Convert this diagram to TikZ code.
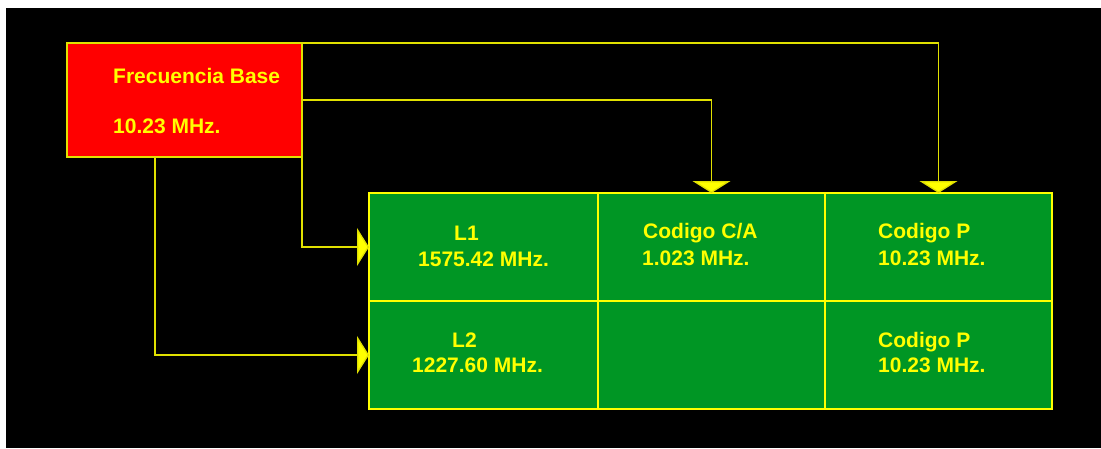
\documentclass[tikz,border=0pt]{standalone}
\usepackage{fontspec}
\setmainfont{Liberation Sans}
\usetikzlibrary{arrows.meta}
\definecolor{gpsgreen}{RGB}{0,150,36}
\definecolor{gpsred}{RGB}{255,0,0}
\definecolor{gpsyel}{RGB}{255,255,0}
\definecolor{gpsline}{RGB}{225,225,0}
\begin{document}
\begin{tikzpicture}[x=1pt,y=-1pt,
 cell/.style={draw=gpsyel,fill=gpsgreen,line width=1.4pt,minimum width=227pt,minimum height=108pt,inner sep=0pt,outer sep=0pt},
 basebox/.style={draw=gpsline,fill=gpsred,line width=1.4pt,minimum width=235pt,minimum height=114pt,inner sep=0pt,outer sep=0pt},
 lbl/.style={anchor=base west,text=gpsyel,font=\fontsize{21}{24}\selectfont\bfseries,inner sep=0pt},
 conn/.style={draw=gpsline,line width=1.3pt,-{Triangle[width=38pt,length=12pt,fill=gpsyel]}}]
\useasboundingbox (0,0) rectangle (1101,448);
\fill[white] (0,0) rectangle (1101,448);
\fill[black] (6,8) rectangle (1101,448);

% frequency base
\node[basebox] (base) at (184.5,100) {};
\node[lbl] (tfb) at (113,83) {Frecuencia Base};
\node[lbl] (tfbv) at (113,133) {10.23 MHz.};

% grid of cells
\node[cell,minimum width=229pt] (c11) at (483.5,247) {};
\node[cell] (c12) at (711.5,247) {};
\node[cell] (c13) at (938.5,247) {};
\node[cell,minimum width=229pt] (c21) at (483.5,355) {};
\node[cell] (c22) at (711.5,355) {};
\node[cell] (c23) at (938.5,355) {};

% cell texts
\node[lbl] (l1) at (454,240) {L1};
\node[lbl] (l1v) at (418,266) {1575.42 MHz.};
\node[lbl] (l2) at (452,347) {L2};
\node[lbl] (l2v) at (412,372) {1227.60 MHz.};
\node[lbl] (ca) at (643,238) {Codigo C/A};
\node[lbl] (cav) at (642,265) {1.023 MHz.};
\node[lbl] (p1) at (878,238) {Codigo P};
\node[lbl] (p1v) at (878,265) {10.23 MHz.};
\node[lbl] (p2) at (878,347) {Codigo P};
\node[lbl] (p2v) at (878,372) {10.23 MHz.};

% connectors
\coordinate (bs) at ([xshift=-29.5pt]base.south);
\draw[conn] (base.north east) -| (c13.north);
\draw[conn] (base.east) -| (c12.north);
\draw[conn] (base.south east) |- (c11.west);
\draw[conn] (bs) |- (c21.west);
\end{tikzpicture}
\end{document}
